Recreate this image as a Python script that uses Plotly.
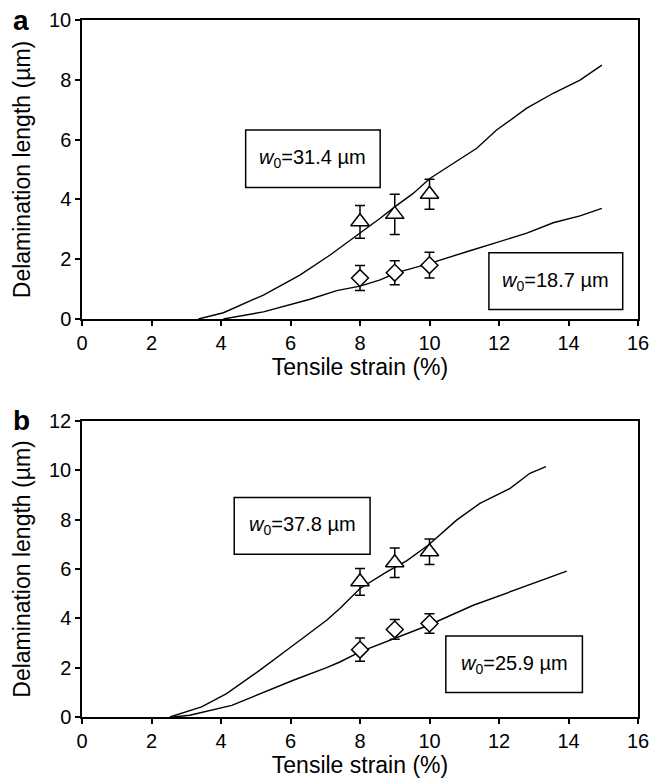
import plotly.graph_objects as go

# ---------------- Panel a data ----------------
strain_a_hi = [3.35, 4.07, 5.22, 6.27, 7.14, 8.0, 8.58, 9.01, 9.53, 10.01, 11.36, 11.93, 12.8, 13.56, 14.33, 14.96]
delam_a_hi = [0.0, 0.21, 0.80, 1.47, 2.14, 2.87, 3.37, 3.76, 4.20, 4.70, 5.71, 6.32, 7.05, 7.55, 7.99, 8.49]
strain_a_lo = [4.07, 5.22, 6.56, 7.33, 8.0, 8.58, 9.06, 10.01, 11.07, 11.93, 12.8, 13.56, 14.33, 14.96]
delam_a_lo = [0.0, 0.24, 0.66, 0.95, 1.10, 1.31, 1.55, 1.86, 2.25, 2.55, 2.87, 3.22, 3.45, 3.70]

exp_strain = [8, 9, 10]
exp_a_tri = [3.25, 3.50, 4.17]
err_a_tri = [0.55, 0.67, 0.50]
exp_a_dia = [1.37, 1.55, 1.80]
err_a_dia = [0.42, 0.40, 0.43]

# ---------------- Panel b data ----------------
strain_b_hi = [2.53, 3.44, 4.16, 5.12, 6.08, 7.04, 7.42, 8.0, 8.77, 9.34, 9.97, 10.78, 11.45, 12.32, 12.89, 13.35]
delam_b_hi = [0.0, 0.41, 0.95, 1.90, 2.91, 3.92, 4.40, 5.21, 5.88, 6.33, 6.97, 7.98, 8.66, 9.27, 9.88, 10.15]
strain_b_lo = [2.63, 3.10, 4.31, 5.12, 6.08, 7.04, 7.42, 8.0, 8.86, 9.97, 11.26, 12.6, 13.95]
delam_b_lo = [0.0, 0.07, 0.47, 0.95, 1.49, 2.00, 2.23, 2.64, 3.11, 3.72, 4.53, 5.21, 5.91]

exp_b_tri = [5.48, 6.25, 6.70]
err_b_tri = [0.54, 0.60, 0.52]
exp_b_dia = [2.73, 3.55, 3.79]
err_b_dia = [0.47, 0.40, 0.40]

labels_a = ["<i>w</i><sub>0</sub>=31.4 µm", "<i>w</i><sub>0</sub>=18.7 µm"]
labels_b = ["<i>w</i><sub>0</sub>=37.8 µm", "<i>w</i><sub>0</sub>=25.9 µm"]

FONT = "Liberation Sans, Arial, sans-serif"
BLACK = "black"

fig = go.Figure()

def add_panel(xa, ya, sx_hi, sy_hi, sx_lo, sy_lo, tri, etri, dia, edia):
    for sx, sy in ((sx_hi, sy_hi), (sx_lo, sy_lo)):
        fig.add_trace(go.Scatter(x=sx, y=sy, mode="lines", xaxis=xa, yaxis=ya,
                                 line=dict(color=BLACK, width=1.4), showlegend=False))
    fig.add_trace(go.Scatter(x=exp_strain, y=tri, mode="markers", xaxis=xa, yaxis=ya,
                             marker=dict(symbol="triangle-up", size=16, color="white",
                                         line=dict(color=BLACK, width=1.5)),
                             error_y=dict(type="data", array=etri, color=BLACK, thickness=1.5, width=5),
                             showlegend=False))
    fig.add_trace(go.Scatter(x=exp_strain, y=dia, mode="markers", xaxis=xa, yaxis=ya,
                             marker=dict(symbol="diamond", size=13, color="white",
                                         line=dict(color=BLACK, width=1.5)),
                             error_y=dict(type="data", array=edia, color=BLACK, thickness=1.5, width=5),
                             showlegend=False))

add_panel("x", "y", strain_a_hi, delam_a_hi, strain_a_lo, delam_a_lo,
          exp_a_tri, err_a_tri, exp_a_dia, err_a_dia)
add_panel("x2", "y2", strain_b_hi, delam_b_hi, strain_b_lo, delam_b_lo,
          exp_b_tri, err_b_tri, exp_b_dia, err_b_dia)

axis_common = dict(showline=True, linecolor=BLACK, linewidth=1.5, mirror=True,
                   ticks="outside", ticklen=5, tickwidth=1.5, tickcolor=BLACK,
                   showgrid=False, zeroline=False, automargin=False,
                   tickfont=dict(family=FONT, size=20, color=BLACK))
title_font = dict(family=FONT, size=23, color=BLACK)

fig.update_layout(
    width=652, height=780,
    margin=dict(l=82, r=14, t=20, b=63),
    paper_bgcolor="white", plot_bgcolor="white",
    xaxis=dict(**axis_common, range=[0, 16], dtick=2, domain=[0, 1], anchor="y",
               title=dict(text="Tensile strain (%)", font=title_font, standoff=2)),
    yaxis=dict(**axis_common, range=[0, 10], dtick=2, domain=[0.571, 1], anchor="x",
               title=dict(text="Delamination length (µm)", font=title_font, standoff=12)),
    xaxis2=dict(**axis_common, range=[0, 16], dtick=2, domain=[0, 1], anchor="y2",
                title=dict(text="Tensile strain (%)", font=title_font, standoff=2)),
    yaxis2=dict(**axis_common, range=[0, 12], dtick=2, domain=[0, 0.4247], anchor="x2",
                title=dict(text="Delamination length (µm)", font=title_font, standoff=12)),
)

# Label boxes (data coordinates of each panel)
boxes = [
    ("x", "y", 4.71, 8.58, 4.40, 6.32, labels_a[0]),
    ("x", "y", 11.71, 15.56, 0.32, 2.22, labels_a[1]),
    ("x2", "y2", 4.38, 8.29, 6.60, 8.90, labels_b[0]),
    ("x2", "y2", 10.47, 14.40, 0.99, 3.28, labels_b[1]),
]
for xr, yr, x0, x1, y0, y1, txt in boxes:
    fig.add_shape(type="rect", xref=xr, yref=yr, x0=x0, x1=x1, y0=y0, y1=y1,
                  line=dict(color=BLACK, width=1.5), fillcolor="white", layer="below")
    fig.add_annotation(xref=xr, yref=yr, x=(x0 + x1) / 2, y=(y0 + y1) / 2, text=txt,
                       showarrow=False, font=dict(family=FONT, size=20, color=BLACK))

# Panel letters
fig.add_annotation(xref="paper", yref="paper", x=-0.128, y=1.0, xanchor="left", yanchor="middle",
                   text="<b>a</b>", showarrow=False, font=dict(family=FONT, size=28, color=BLACK))
fig.add_annotation(xref="paper", yref="paper", x=-0.128, y=0.4247, xanchor="left", yanchor="middle",
                   text="<b>b</b>", showarrow=False, font=dict(family=FONT, size=28, color=BLACK))

fig.write_html("out.html", config={"displayModeBar": False},
               post_script="document.body.style.margin='0';document.body.style.overflow='hidden';")
